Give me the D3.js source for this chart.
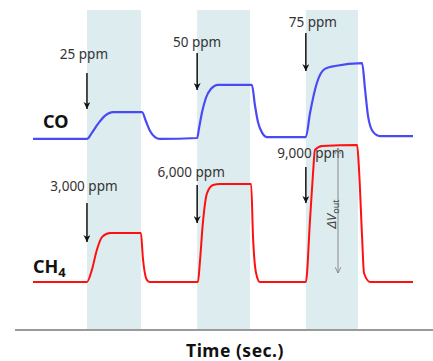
<!DOCTYPE html>
<html>
<head>
<meta charset="utf-8">
<script src="https://cdnjs.cloudflare.com/ajax/libs/d3/7.8.5/d3.min.js"></script>
<style>
 body { margin: 0; background: #fff; }
 text { font-family: "Noto Sans", "Open Sans", sans-serif; }
</style>
</head>
<body>
<svg id="chart" width="433" height="361"></svg>
<script>
// gas exposure windows (time, arbitrary sec.)
var bands = [[14.2, 28.4], [43.2, 57.1], [71.8, 85.5]];

// sensor outputs: [time, signal]
var coSignal = [[0,59.7],[14.2,59.7],[15.5,61.6],[17.1,64.4],[18.9,66.9],[21.1,68.1],[28.7,68.1],
 [29.7,65.3],[30.8,62.2],[32.1,60.3],[33.4,59.7],[43.2,60.0],[43.7,63.1],[44.5,68.1],[45.5,72.5],
 [46.8,75.3],[48.7,76.6],[57.6,76.6],[58.4,70.3],[59.2,65.0],[60.3,61.6],[61.6,60.3],[71.8,60.3],
 [72.9,67.8],[74.7,77.2],[76.8,81.6],[79.5,82.5],[86.6,83.4],[87.4,75.0],[88.2,66.6],[89.5,61.9],
 [91.3,60.6],[100,60.6]];
var ch4Signal = [[0,15],[14.2,15],[15.5,18.8],[16.8,25],[18.2,29.1],[20.3,30.3],[28.4,30.3],
 [28.9,22.8],[30.0,15.6],[30.8,15],[43.4,15],[43.9,20.9],[44.7,33.4],[45.8,42.8],[47.4,45.3],
 [49.2,45.6],[57.4,45.6],[57.9,29.1],[58.7,17.8],[59.7,15],[71.8,15],[72.9,34.4],[73.7,49.1],
 [74.2,56.3],[76.1,57.5],[85.3,57.8],[85.8,50],[86.6,29.1],[87.1,17.8],[88.7,15],[100,15]];

// concentration labels and arrows: [label, time, arrowTop, arrowBottom, labelY, labelDx]
var coMarks = [['25 ppm', 14.2, 80.3, 69.1, 84.7, -3], ['50 ppm', 43.2, 86.6, 75.0, 88.4, 0],
 ['75 ppm', 71.8, 92.8, 80.9, 94.7, 7]];
var ch4Marks = [['3,000 ppm', 14.2, 39.7, 27.5, 43.4, -3], ['6,000 ppm', 43.2, 45.3, 33.4, 47.8, -6],
 ['9,000 ppm', 71.8, 50.9, 39.7, 53.8, 5]];

var svg = d3.select('#chart');
var x = d3.scaleLinear().domain([0, 100]).range([33, 413]);
var y = d3.scaleLinear().domain([0, 100]).range([330, 10]);

var defs = svg.append('defs');
defs.append('marker').attr('id', 'headBlack')
 .attr('viewBox', '0 0 10 10').attr('refX', 10).attr('refY', 5)
 .attr('markerWidth', 7).attr('markerHeight', 7).attr('markerUnits', 'userSpaceOnUse')
 .attr('orient', 'auto')
 .append('path').attr('d', 'M0,0L10,5L0,10L3,5Z').style('fill', '#111');
defs.append('marker').attr('id', 'headGray')
 .attr('viewBox', '0 0 10 10').attr('refX', 10).attr('refY', 5)
 .attr('markerWidth', 6).attr('markerHeight', 6).attr('markerUnits', 'userSpaceOnUse')
 .attr('orient', 'auto-start-reverse')
 .append('path').attr('d', 'M0,0L10,5L0,10').style('fill', 'none').style('stroke', '#888').style('stroke-width', 1.5);

// shaded exposure bands
svg.selectAll('.band').data(bands).enter().append('rect')
 .attr('class', 'band')
 .attr('x', function(d){ return x(d[0]); })
 .attr('width', function(d){ return x(d[1]) - x(d[0]); })
 .attr('y', y(100))
 .attr('height', y(0) - y(100))
 .style('fill', '#dcecef');

// time axis
svg.append('line')
 .attr('x1', 15).attr('x2', 433).attr('y1', y(0)).attr('y2', y(0))
 .style('stroke', '#9a9a9a').style('stroke-width', 2);

var line = d3.line().x(function(d){ return x(d[0]); }).y(function(d){ return y(d[1]); })
 .curve(d3.curveMonotoneX);

svg.append('path').datum(coSignal).attr('d', line)
 .style('fill', 'none').style('stroke', '#4a4af4').style('stroke-width', 2.2);
svg.append('path').datum(ch4Signal).attr('d', line)
 .style('fill', 'none').style('stroke', '#ff1010').style('stroke-width', 2);

// arrows with concentrations
function drawMarks(marks)
{
 marks.forEach(function(m){
  svg.append('line')
   .attr('x1', x(m[1])).attr('x2', x(m[1]))
   .attr('y1', y(m[2])).attr('y2', y(m[3]))
   .attr('marker-end', 'url(#headBlack)')
   .style('stroke', '#111').style('stroke-width', 1.5);
  svg.append('text')
   .attr('x', x(m[1]) + m[5]).attr('y', y(m[4]))
   .attr('text-anchor', 'middle')
   .attr('font-size', 13.5)
   .style('fill', '#333')
   .text(m[0]);
 });
}
drawMarks(coMarks);
drawMarks(ch4Marks);

// delta V out arrow
svg.append('line')
 .attr('x1', 338).attr('x2', 338)
 .attr('y1', y(ch4Signal[25][1]) + 3).attr('y2', y(ch4Signal[0][1]) - 9)
 .attr('marker-start', 'url(#headGray)').attr('marker-end', 'url(#headGray)')
 .style('stroke', '#8a8a8a').style('stroke-width', 1);
var dv = svg.append('text')
 .attr('transform', 'translate(336,214) rotate(-90)')
 .attr('text-anchor', 'middle')
 .attr('font-size', 13)
 .style('fill', '#444');
dv.append('tspan').style('font-style', 'italic').text('\u0394V');
dv.append('tspan').attr('font-size', 9).attr('dy', 3).text('out');

// series labels
svg.append('text').attr('x', 43).attr('y', 128)
 .attr('font-size', 18).attr('font-weight', 'bold').style('fill', '#111').text('CO');
var ch4 = svg.append('text').attr('x', 33).attr('y', 273)
 .attr('font-size', 18).attr('font-weight', 'bold').style('fill', '#111');
ch4.append('tspan').text('CH');
ch4.append('tspan').attr('font-size', 13).attr('dy', 4).text('4');

svg.append('text').attr('x', 235).attr('y', 357)
 .attr('text-anchor', 'middle')
 .attr('font-size', 17.5).attr('font-weight', 'bold').style('fill', '#111')
 .attr('letter-spacing', 0.5)
 .text('Time (sec.)');
</script>
</body>
</html>
